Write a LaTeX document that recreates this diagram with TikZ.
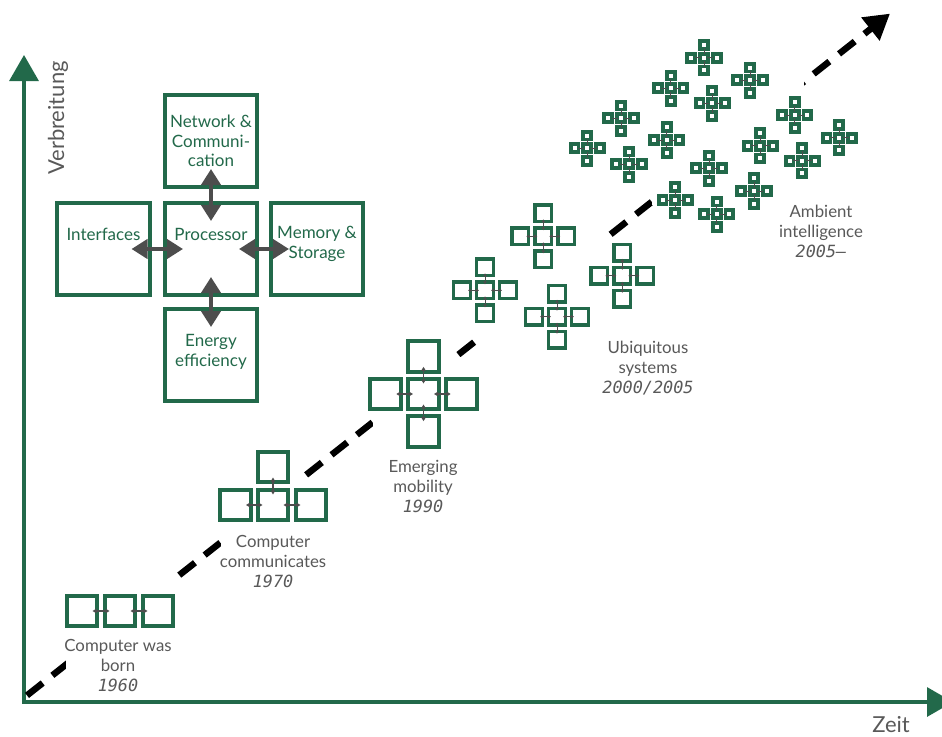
\documentclass[tikz,border=0pt]{standalone}
\usepackage{fontspec}
\setmainfont{Lato}
\newfontfamily\yearfont{DejaVu Sans Mono}
\usetikzlibrary{arrows.meta,calc}

\definecolor{boxgreen}{HTML}{22694A}
\definecolor{labelgray}{HTML}{595959}
\definecolor{arrowgray}{HTML}{4D4D4D}

\newcommand\boxfont{\fontsize{17}{19.5}\selectfont}
\newcommand\labelfont{\fontsize{16.8}{20}\selectfont}
\newcommand\axisfont{\fontsize{22}{26}\selectfont}
\newcommand\yr[1]{{\yearfont\itshape #1}}

\tikzset{
  unitbox/.style={rectangle, draw=boxgreen, fill=white, inner sep=0pt, outer sep=0pt},
  bigbox/.style={unitbox, line width=4pt, minimum size=92.5pt},
  midbox/.style={unitbox, line width=4pt, minimum size=30.8pt},
  ubibox/.style={unitbox, line width=3.4pt, minimum size=16.6pt},
  ambbox/.style={unitbox, line width=3.8pt, minimum size=7.9pt},
  biglink/.style={arrowgray, line width=4pt,
    {Triangle[length=16pt,width=19pt]}-{Triangle[length=16pt,width=19pt]},
    shorten <=28pt, shorten >=28pt},
  midlink/.style={arrowgray, line width=1.2pt,
    {Triangle[length=4pt,width=4.5pt]}-{Triangle[length=4pt,width=4.5pt]},
    shorten <=10.5pt, shorten >=10.5pt},
  ubilink/.style={arrowgray, line width=1pt,
    {Triangle[length=3pt,width=3.5pt]}-{Triangle[length=3pt,width=3.5pt]},
    shorten <=6pt, shorten >=6pt},
  amblink/.style={arrowgray, line width=0.7pt, shorten <=3.3pt, shorten >=3.3pt},
  boxtext/.style={text=boxgreen, font=\boxfont, align=center, inner sep=0pt},
  glabel/.style={text=labelgray, font=\labelfont, align=center, inner sep=1pt},
  axislabel/.style={text=labelgray, font=\axisfont, inner sep=0pt},
  axis/.style={boxgreen, line width=3.2pt,
    {Triangle[length=26pt,width=29pt]}-{Triangle[length=26pt,width=29pt]}},
  trend/.style={black, line width=6.5pt, dash pattern=on 20pt off 12.34pt,
    -{Triangle[length=25pt,width=28pt]}},
}

% A centre box with four neighbours, linked centre to neighbour
\newcommand\plusgroup[5]{%
  \node[#5box] (#1-c) at (#2,#3) {};
  \node[#5box] (#1-t) at (#2,#3-#4) {};
  \node[#5box] (#1-b) at (#2,#3+#4) {};
  \node[#5box] (#1-l) at (#2-#4,#3) {};
  \node[#5box] (#1-r) at (#2+#4,#3) {};
  \foreach \n in {t,b,l,r} \draw[#5link] (#1-c.center) -- (#1-\n.center);
}

\begin{document}
\begin{tikzpicture}[x=1pt,y=-1pt]
\useasboundingbox (0,0) rectangle (942,736);
\fill[white] (0,0) rectangle (942,736);

% axes
\coordinate (origin) at (24,702);
\coordinate (ytip) at (24,55);
\coordinate (xtip) at (953,702);
\draw[axis] (ytip) -- (origin) -- (xtip);
\node[axislabel, rotate=90] (ylab) at (58,118) {Verbreitung};
\node[axislabel] (xlab) at (891,725) {Zeit};

% trend line
\coordinate (trendstart) at (27,695.4);
\coordinate (trendend) at (890,13.6);
\draw[trend] (trendstart) -- (trendend);

% white backing behind each group
\fill[white] (66,576) rectangle (178,695);
\fill[white] (221,478) rectangle (330,595);
\fill[white] (373,357) rectangle (480,455);
\fill[white] (476,238) rectangle (604,341);
\fill[white] (652,78) rectangle (804,205);

% building blocks of a computer
\node[bigbox] (net) at (211,141) {};
\node[bigbox] (proc) at (211,249) {};
\node[bigbox] (intf) at (103.5,249) {};
\node[bigbox] (mem) at (317,249) {};
\node[bigbox] (energy) at (211,355) {};
\node[boxtext] (net-t) at (211,141) {Network \&\\Communi-\\cation};
\node[boxtext] (proc-t) at (211,234) {Processor};
\node[boxtext] (intf-t) at (103.5,234) {Interfaces};
\node[boxtext] (mem-t) at (317,244) {Memory \&\\Storage};
\node[boxtext] (energy-t) at (211,352) {Energy\\efficiency};
\draw[biglink] (proc.center) -- (net.center);
\draw[biglink] (proc.center) -- (intf.center);
\draw[biglink] (proc.center) -- (mem.center);
\draw[biglink] (proc.center) -- (energy.center);

% 1960
\node[midbox] (a-l) at (82,611) {};
\node[midbox] (a-c) at (120,611) {};
\node[midbox] (a-r) at (158,611) {};
\draw[midlink] (a-c.center) -- (a-l.center);
\draw[midlink] (a-c.center) -- (a-r.center);
\node[glabel] (lab60) at (118,665.7) {Computer was\\born\\\yr{1960}};

% 1970
\node[midbox] (b-t) at (273,467) {};
\node[midbox] (b-l) at (235.5,505) {};
\node[midbox] (b-c) at (273,505) {};
\node[midbox] (b-r) at (311,505) {};
\draw[midlink] (b-c.center) -- (b-t.center);
\draw[midlink] (b-c.center) -- (b-l.center);
\draw[midlink] (b-c.center) -- (b-r.center);
\node[glabel] (lab70) at (273,562) {Computer\\communicates\\\yr{1970}};

% 1990
\plusgroup{m}{423.5}{394}{37.7}{mid}
\node[glabel] (lab90) at (423,486.3) {Emerging\\mobility\\\yr{1990}};

% 2000/2005
\plusgroup{u1}{543.3}{236.3}{23}{ubi}
\plusgroup{u2}{485}{290.3}{23}{ubi}
\plusgroup{u3}{557}{316.7}{23}{ubi}
\plusgroup{u4}{622.3}{275.8}{23}{ubi}
\node[glabel] (lab00) at (648,368) {Ubiquitous\\systems\\\yr{2000/2005}};

% 2005-
\plusgroup{v1}{704}{57.7}{12.7}{amb}
\plusgroup{v2}{750}{80.3}{12.7}{amb}
\plusgroup{v3}{670.7}{88.3}{12.7}{amb}
\plusgroup{v4}{712.3}{103.3}{12.7}{amb}
\plusgroup{v5}{621}{118.3}{12.7}{amb}
\plusgroup{v6}{794.7}{115}{12.7}{amb}
\plusgroup{v7}{587.3}{148.3}{12.7}{amb}
\plusgroup{v8}{666.7}{140}{12.7}{amb}
\plusgroup{v9}{629}{164.3}{12.7}{amb}
\plusgroup{v10}{760.3}{145.7}{12.7}{amb}
\plusgroup{v11}{839.3}{137.7}{12.7}{amb}
\plusgroup{v12}{709}{168.3}{12.7}{amb}
\plusgroup{v13}{802.3}{160.7}{12.7}{amb}
\plusgroup{v14}{754}{191}{12.7}{amb}
\plusgroup{v15}{675.3}{200}{12.7}{amb}
\plusgroup{v16}{716.7}{214.3}{12.7}{amb}
\node[glabel] (lab05) at (821,231.7) {Ambient\\intelligence\\\yr{2005–}};
\end{tikzpicture}
\end{document}
